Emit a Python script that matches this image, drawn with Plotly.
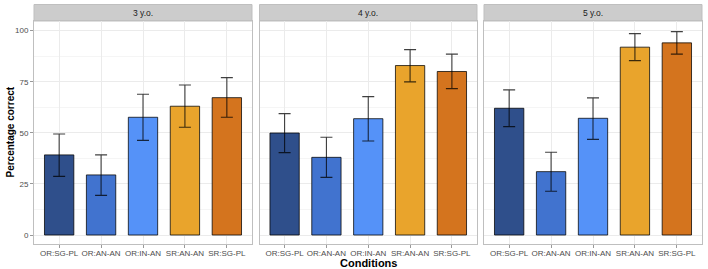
import plotly.graph_objects as go

conditions = ["OR:SG-PL", "OR:AN-AN", "OR:IN-AN", "SR:AN-AN", "SR:SG-PL"]
colors = ["#2F4F8B", "#4173CF", "#5592F8", "#E9A42C", "#D4741E"]
panels = ["3 y.o.", "4 y.o.", "5 y.o."]

mean_3 = [39.2, 29.4, 57.6, 63.0, 67.2]
upper_3 = [49.4, 39.2, 68.9, 73.4, 77.0]
lower_3 = [28.7, 19.4, 46.3, 52.7, 57.6]

mean_4 = [49.9, 38.0, 56.9, 82.9, 80.0]
upper_4 = [59.4, 47.8, 67.7, 90.7, 88.5]
lower_4 = [40.3, 28.2, 46.0, 74.9, 71.6]

mean_5 = [62.0, 31.0, 57.1, 91.9, 94.0]
upper_5 = [71.0, 40.5, 67.1, 98.5, 99.5]
lower_5 = [53.0, 21.4, 46.8, 85.3, 88.5]

means = [mean_3, mean_4, mean_5]
uppers = [upper_3, upper_4, upper_5]
lowers = [lower_3, lower_4, lower_5]

W, H = 708, 269
ml, mr, mt, mb = 34, 6, 21, 25
pw = W - ml - mr
ph = H - mt - mb
px_domains = [(0, 218), (225.5, 443), (450, 668)]
domains = [(a / pw, b / pw) for a, b in px_domains]

fig = go.Figure()
for i in range(3):
    xa = "x" if i == 0 else f"x{i+1}"
    ya = "y" if i == 0 else f"y{i+1}"
    m = means[i]
    fig.add_trace(go.Bar(
        x=conditions, y=m, xaxis=xa, yaxis=ya,
        marker=dict(color=colors, line=dict(color="rgba(0,0,0,0.75)", width=1)),
        width=0.7,
        error_y=dict(type="data", symmetric=False,
                     array=[u - v for u, v in zip(uppers[i], m)],
                     arrayminus=[v - l for v, l in zip(m, lowers[i])],
                     color="rgba(0,0,0,0.75)", thickness=1.1, width=6),
        showlegend=False, hoverinfo="skip",
    ))

layout = dict(
    width=W, height=H,
    margin=dict(l=ml, r=mr, t=mt, b=mb),
    paper_bgcolor="white", plot_bgcolor="white",
    font=dict(family="Liberation Sans, Arial, sans-serif", color="#4D4D4D", size=8),
    bargap=0.3,
    shapes=[], annotations=[],
)
strip_top = 1 + 16.5 / ph
for i in range(3):
    sfx = "" if i == 0 else str(i + 1)
    layout["xaxis" + sfx] = dict(
        domain=list(domains[i]), range=[-0.6, 4.6], anchor="y" + sfx,
        showgrid=True, gridcolor="#EBEBEB", gridwidth=1,
        showline=True, linecolor="#BFBFBF", linewidth=1, mirror=True,
        ticks="outside", ticklen=3, tickcolor="#999999",
        tickfont=dict(size=8, color="#4D4D4D"), zeroline=False,
        categoryorder="array", categoryarray=conditions,
        ticklabelstandoff=-2,
        automargin=False,
    )
    layout["yaxis" + sfx] = dict(
        range=[-4.4, 104.7], anchor="x" + sfx,
        tickvals=[0, 25, 50, 75, 100],
        showticklabels=(i == 0),
        ticks="outside" if i == 0 else "", ticklen=3, tickcolor="#999999",
        showgrid=True, gridcolor="#EBEBEB", gridwidth=1,
        minor=dict(tickvals=[12.5, 37.5, 62.5, 87.5], showgrid=True, gridcolor="#F5F5F5", gridwidth=0.6, ticks=""),
        showline=True, linecolor="#BFBFBF", linewidth=1, mirror=True,
        zeroline=False, tickfont=dict(size=8, color="#4D4D4D"),
        automargin=False,
    )
    layout["shapes"].append(dict(
        type="rect", xref="paper", yref="paper",
        x0=domains[i][0], x1=domains[i][1], y0=1.0, y1=strip_top,
        fillcolor="#CCCCCC", line=dict(color="#BFBFBF", width=1), layer="below",
    ))
    layout["annotations"].append(dict(
        text=panels[i], xref="paper", yref="paper",
        x=(domains[i][0] + domains[i][1]) / 2, y=(1 + strip_top) / 2,
        showarrow=False, font=dict(size=8.5, color="#1A1A1A"),
        xanchor="center", yanchor="middle",
    ))

layout["annotations"].append(dict(
    text="<b>Conditions</b>", xref="paper", yref="paper",
    x=0.5, y=-19 / ph, showarrow=False, yanchor="middle",
    font=dict(size=11, color="black"),
))
layout["annotations"].append(dict(
    text="<b>Percentage correct</b>", xref="paper", yref="paper",
    x=-24 / pw, y=0.5, showarrow=False, textangle=-90,
    xanchor="center", yanchor="middle",
    font=dict(size=10, color="black"),
))
fig.update_layout(**layout)
fig.write_html("out.html", config={"displayModeBar": False},
               post_script="document.body.style.margin='0';document.body.style.overflow='hidden';")
